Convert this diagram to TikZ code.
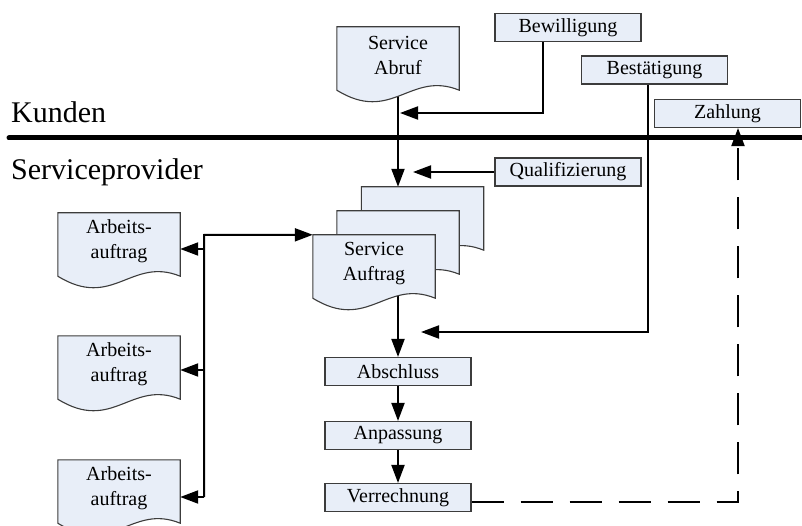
\documentclass[tikz,border=0pt]{standalone}
\usepackage{fontspec}
\setmainfont{Liberation Serif}
\usetikzlibrary{arrows.meta,calc}
\pgfdeclarelayer{background}
\pgfsetlayers{background,main}
\definecolor{boxfill}{RGB}{232,238,248}
\definecolor{boxline}{RGB}{60,60,60}
\tikzset{
  procbox/.style={draw=boxline, line width=1.1pt, fill=boxfill,
    minimum width=146pt, minimum height=28pt, inner sep=0pt,
    font=\fontsize{20}{24}\selectfont},
  docbox/.style={minimum width=122pt, minimum height=63pt, inner sep=0pt},
  docshape/.style={draw=boxline, line width=1.1pt, fill=boxfill},
  doctext/.style={align=center, font=\fontsize{20}{25}\selectfont, inner sep=0pt},
  flow/.style={line width=2pt, -{Triangle[length=18pt,width=13pt]}},
  bigtext/.style={font=\fontsize{30}{36}\selectfont, anchor=base west, inner sep=0pt},
}
% document symbol: rectangle body with a wavy lower edge
\newcommand\docnode[3]{%
  \node[docbox] (#1) at (#2) {};
  \path[docshape] (#1.north west) -- (#1.north east) -- (#1.south east)
    .. controls ($(#1.south west)!0.6!(#1.south east)+(0,-20)$)
       and ($(#1.south west)!0.45!(#1.south east)+(0,34)$) .. (#1.south west)
    -- cycle;
  \node[doctext] (#1-label) at ([yshift=3pt]#1.center) {#3};
}
\begin{document}
\begin{tikzpicture}[x=1pt,y=-1pt]
\useasboundingbox (0,0) rectangle (802,526);

% lane labels
\node[bigtext] (kunden) at (11,123) {Kunden};
\node[bigtext] (provider) at (11,180) {Serviceprovider};

% process boxes
\node[procbox] (bew) at (568,27.5) {Bewilligung};
\node[procbox] (best) at (654.5,70) {Bestätigung};
\node[procbox] (zahl) at (727.5,113.5) {Zahlung};
\node[procbox] (qual) at (568,172) {Qualifizierung};
\node[procbox] (abschluss) at (398,371.5) {Abschluss};
\node[procbox] (anpassung) at (398,435.5) {Anpassung};
\node[procbox] (verr) at (398,497.5) {Verrechnung};

% documents
\docnode{abruf}{398,58.5}{Service\\Abruf}
\docnode{back}{422.5,218.5}{}
\docnode{middle}{398,242.5}{}
\docnode{front}{374,266.5}{Service\\Auftrag}
\docnode{arbeitsA}{119,244.5}{Arbeits-\\auftrag}
\docnode{arbeitsB}{119,367.5}{Arbeits-\\auftrag}
\docnode{arbeitsC}{119,491.5}{Arbeits-\\auftrag}

% connector end points
\coordinate (bewin) at (400,113);
\coordinate (qualin) at (413,172);
\coordinate (bestin) at (421,332);
\coordinate (jtop) at (204,235);
\coordinate (j1) at (204,249);
\coordinate (j2) at (204,370);
\coordinate (j3) at (204,497);

\begin{pgfonlayer}{background}
  % lane divider
  \draw[line width=5pt, line cap=round] (9,138) -- (812,138);
  % connectors
  \draw[flow] (abruf.center) -- (abruf.center |- back.north);
  \draw[flow] ([xshift=-25pt]bew.south) |- (bewin);
  \draw[flow] (qual.west) -- (qualin);
  \draw[flow] ([xshift=-6.5pt]best.south) |- (bestin);
  \draw[flow] (abschluss.north |- front.center) -- (abschluss.north);
  \draw[flow] (abschluss) -- (anpassung);
  \draw[flow] (anpassung) -- (verr);
  \draw[flow, dash pattern=on 32pt off 17pt]
    ([yshift=-4.5pt]verr.east) -| ([xshift=10.5pt]zahl.south);
  \draw[flow] (j3) -- (jtop) -- (front.north west);
  \draw[flow] (j1) -- (j1 -| arbeitsA.east);
  \draw[flow] (j2) -- (j2 -| arbeitsB.east);
  \draw[flow] (j3) -- (j3 -| arbeitsC.east);
\end{pgfonlayer}
\end{tikzpicture}
\end{document}
